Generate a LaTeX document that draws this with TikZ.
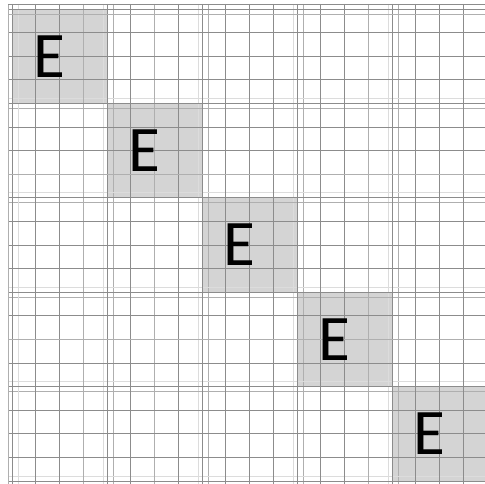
\documentclass[tikz,border=0pt]{standalone}
\usepackage{fontspec}
\setmainfont{Carlito}
\usepackage{tikz}
\usetikzlibrary{positioning}
\definecolor{bloccogray}{RGB}{212,212,212}
\definecolor{lineascura}{RGB}{140,140,140}
\definecolor{lineamedia}{RGB}{175,175,175}
\definecolor{lineachiara}{RGB}{220,220,220}

\begin{document}
\begin{tikzpicture}[
    x=1pt, y=-1pt,
    linea/.style={draw=lineascura, line width=0.9pt},
    media/.style={draw=lineamedia, line width=0.9pt},
    chiara/.style={draw=lineachiara, line width=0.9pt},
    lettera/.style={inner sep=0pt, text=black, font=\fontsize{65}{65}\selectfont}
]
\useasboundingbox (0,0) rectangle (485,484);

% Blocchi grigi sulla diagonale
\foreach \i in {0,...,4}
  \fill[bloccogray] (12+95*\i, 9+94.4*\i) rectangle ++(95,94.4);

% Linee sottili accanto ai bordi dei blocchi
\foreach \b in {107,202,297,392} {
  \draw[chiara] (\b-4,4) -- (\b-4,484);
  \draw[media] (\b+6,4) -- (\b+6,484);
}
\foreach \b in {103.4,197.8,292.2,386.6} {
  \draw[chiara] (8,\b-5) -- (485,\b-5);
  \draw[media] (8,\b+5) -- (485,\b+5);
}
\draw[chiara] (18,4) -- (18,484);
\draw[chiara] (8,476) -- (485,476);

% Griglia principale
\foreach \k in {0,1,2,4,5,7,8,9,10,11,12,13,14,16,17,18,19,20}
  \draw[linea] (12+23.75*\k,4) -- (12+23.75*\k,484);
\foreach \k in {3,6,15}
  \draw[media] (12+23.75*\k,4) -- (12+23.75*\k,484);
\foreach \k in {0,1,2,3,4,5,6,8,9,10,11,12,13,15,16,17,18,19,20}
  \draw[linea] (8,9+23.6*\k) -- (485,9+23.6*\k);
\foreach \k in {7,14}
  \draw[media] (8,9+23.6*\k) -- (485,9+23.6*\k);

% Bordo esterno
\draw[media] (8,4) -- (8,484);
\draw[linea] (8,4) -- (485,4);
\draw[media] (8,14) -- (485,14);

% Lettere
\foreach \i in {0,...,4}
  \node[lettera] (e\i) at (49.5+95*\i, 56.2+94.4*\i) {E};

\end{tikzpicture}
\end{document}
